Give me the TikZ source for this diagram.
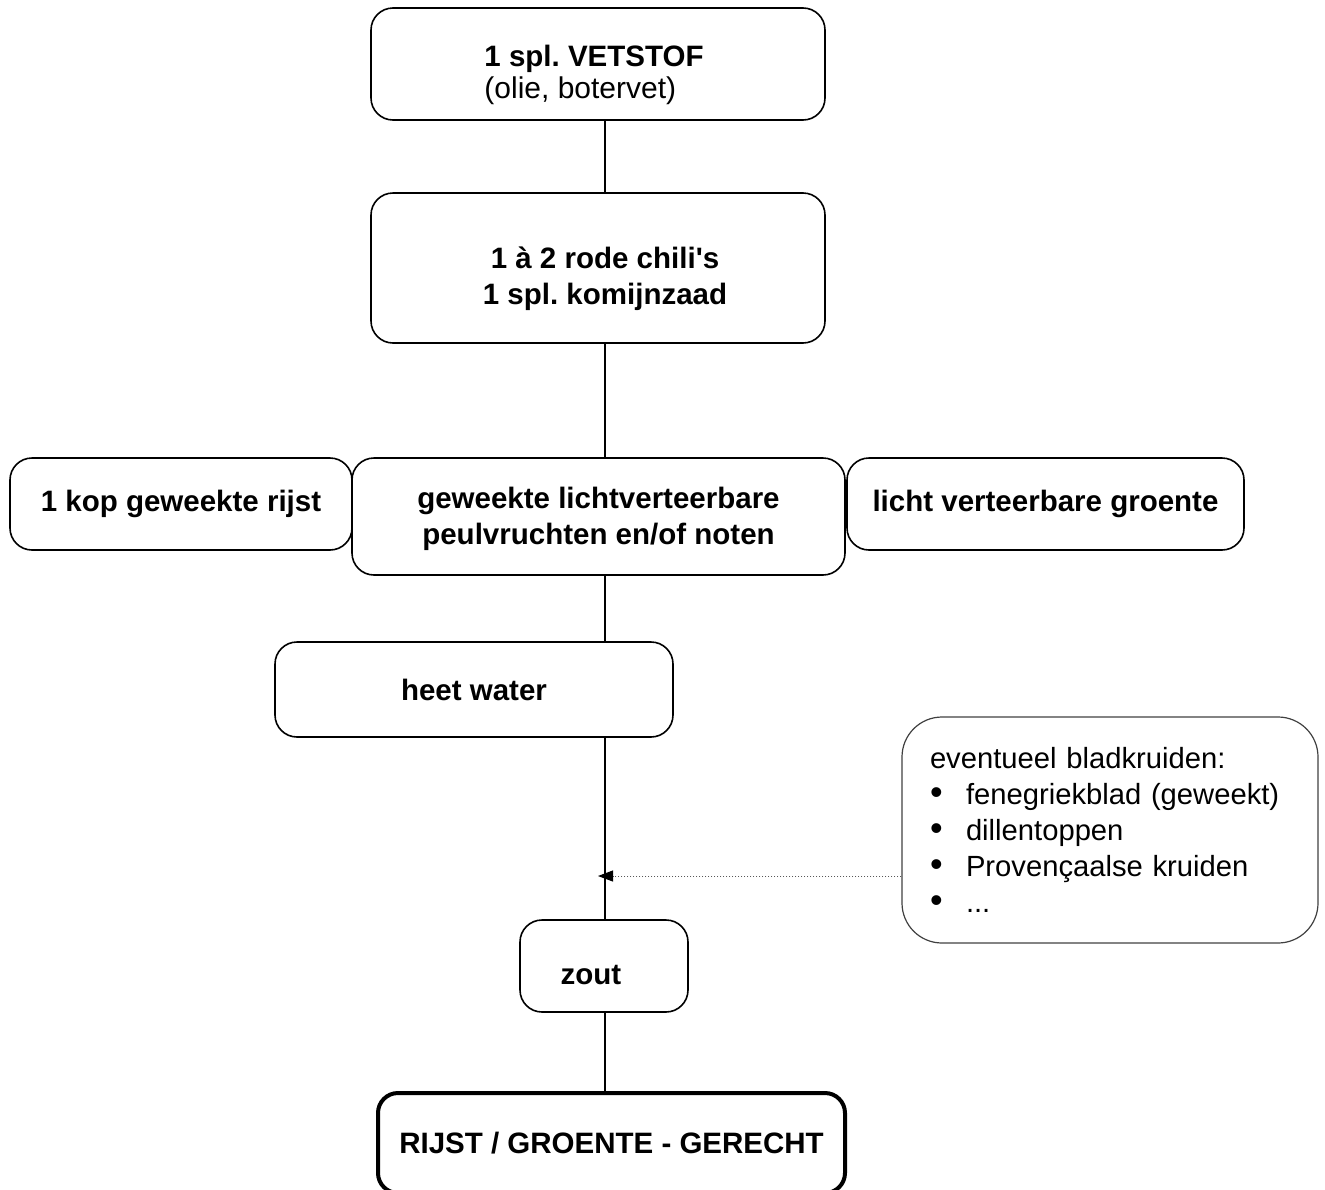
\documentclass[tikz,border=0pt]{standalone}
\usepackage{fontspec}
\setmainfont{Liberation Sans}
\usetikzlibrary{arrows.meta}
\frenchspacing

\begin{document}
\begin{tikzpicture}[x=1pt,y=-1pt,
    box/.style={draw,rounded corners=22pt,line width=1.6pt,align=center,inner sep=0pt,
      font=\fontsize{29.5}{36}\selectfont\bfseries},
    boxtext/.style={align=center,inner sep=0pt,font=\fontsize{29.5}{36}\selectfont\bfseries},
    endbox/.style={box,line width=4pt,rounded corners=20pt},
    notebox/.style={draw=black!75,rounded corners=40pt,line width=1.2pt,align=left,inner sep=0pt,
      text width=360pt,font=\fontsize{29.2}{36}\selectfont},
    link/.style={line width=1.6pt},
    hint/.style={dotted,line width=1pt,black!65,-{Triangle[length=15pt,width=11pt,black]}}]
\newcommand{\blt}{\makebox[36pt][l]{\fontsize{36}{36}\selectfont\textbullet}}
\useasboundingbox (0,0) rectangle (1325,1189);
%Kaesten
\node[box,minimum width=454pt,minimum height=112pt] (vet) at (598,64) {};
\node[boxtext,align=left] (vettext) at (594,75)
  {1 spl. VETSTOF\\[-4pt]{\fontsize{30}{32}\selectfont\mdseries (olie, botervet)}};
\node[box,minimum width=454pt,minimum height=150pt] (chili) at (598,268) {};
\node[boxtext] (chilitext) at (605,279) {1 à 2 rode chili\textquotesingle s\\1 spl. komijnzaad};
\node[box,minimum width=342pt,minimum height=92pt] (rijst) at (181,504) {1 kop geweekte rijst};
\node[box,minimum width=493pt,minimum height=117pt] (peul) at (598.5,516.5) {};
\node[boxtext] (peultext) at (598.5,519) {geweekte lichtverteerbare\\peulvruchten en/of noten};
\node[box,minimum width=397pt,minimum height=92pt] (groente) at (1045.5,504) {licht verteerbare groente};
\node[box,minimum width=398pt,minimum height=95pt] (heet) at (474,689.5) {heet water};
\node[box,minimum width=168pt,minimum height=92pt] (zout) at (604,966) {};
\node[boxtext] (zouttext) at (591,975) {zout};
\node[endbox,minimum width=467pt,minimum height=100pt] (gerecht) at (611.5,1143) {RIJST / GROENTE - GERECHT};
\node[notebox,minimum width=416pt,minimum height=226pt] (kruiden) at (1110,830)
  {\mbox{eventueel bladkruiden:}\\
   \mbox{\blt fenegriekblad (geweekt)}\\
   \mbox{\blt dillentoppen}\\
   \mbox{\blt Provençaalse kruiden}\\
   \mbox{\blt ...}};
%Linien
\coordinate (spine) at (605,0);
\draw[link] (vet.south -| spine) -- (chili.north -| spine);
\draw[link] (chili.south -| spine) -- (peul.north -| spine);
\draw[link] (peul.south -| spine) -- (heet.north -| spine);
\draw[link] (heet.south -| spine) -- (zout.north -| spine);
\draw[link] (zout.south -| spine) -- (gerecht.north -| spine);
%Pfeil
\coordinate (inlet) at (598,876);
\draw[hint] (kruiden.west |- inlet) -- (inlet);
\end{tikzpicture}
\end{document}
